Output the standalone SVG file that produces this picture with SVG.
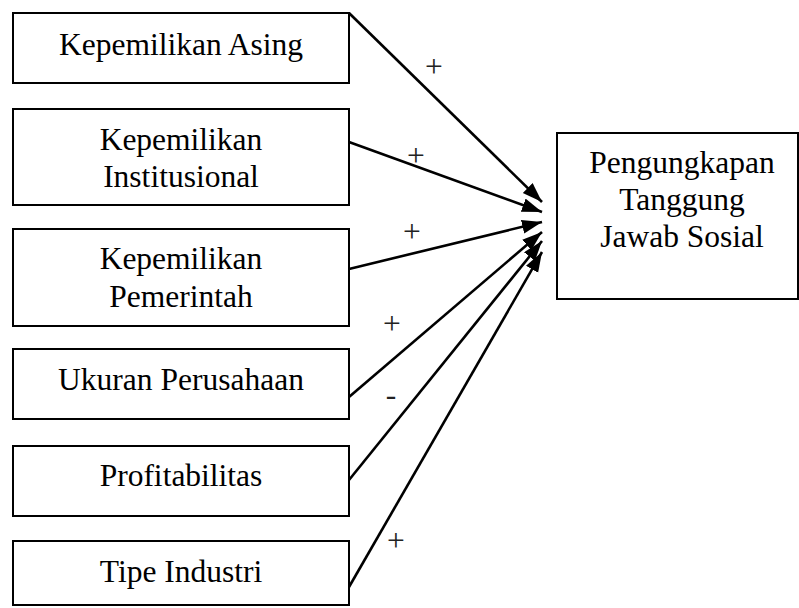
<svg xmlns="http://www.w3.org/2000/svg" width="799" height="608" viewBox="0 0 799 608">
<style>
.box{fill:#fff;stroke:#000;stroke-width:2}
.t{font-family:"Liberation Serif","Times New Roman",serif;font-size:31.5px;fill:#000;text-anchor:middle}
.c{stroke:#000;stroke-width:2.6;fill:none;marker-end:url(#ah)}
.lbl{font-family:"Liberation Serif","Times New Roman",serif;font-size:31.5px;fill:#222;text-anchor:middle}
</style>
<defs>
<marker id="ah" markerUnits="userSpaceOnUse" markerWidth="22" markerHeight="16" refX="20" refY="7" orient="auto" viewBox="0 0 22 16">
<path d="M0,0 L20,7 L0,14 z" fill="#000"/>
</marker>
</defs>
<rect width="799" height="608" fill="#fff"/>
<g id="n1"><rect class="box" x="13" y="13" width="336" height="70"/><text class="t" x="181" y="55">Kepemilikan Asing</text></g>
<g id="n2"><rect class="box" x="13" y="109" width="336" height="96"/><text class="t" x="181" y="150">Kepemilikan</text><text class="t" x="181" y="187">Institusional</text></g>
<g id="n3"><rect class="box" x="13" y="229" width="336" height="97"/><text class="t" x="181" y="269">Kepemilikan</text><text class="t" x="181" y="307">Pemerintah</text></g>
<g id="n4"><rect class="box" x="13" y="349" width="336" height="70"/><text class="t" x="181" y="390">Ukuran Perusahaan</text></g>
<g id="n5"><rect class="box" x="13" y="446" width="336" height="70"/><text class="t" x="181" y="486">Profitabilitas</text></g>
<g id="n6"><rect class="box" x="13" y="541" width="336" height="64"/><text class="t" x="181" y="582">Tipe Industri</text></g>
<g id="n7"><rect class="box" x="557" y="133" width="241" height="166"/><text class="t" x="682" y="173">Pengungkapan</text><text class="t" x="682" y="210">Tanggung</text><text class="t" x="682" y="247">Jawab Sosial</text></g>
<g id="connectors">
<line class="c" x1="349" y1="13" x2="542" y2="202"/>
<line class="c" x1="349" y1="142" x2="542" y2="212"/>
<line class="c" x1="349" y1="269" x2="542" y2="222"/>
<line class="c" x1="349" y1="397" x2="542" y2="232"/>
<line class="c" x1="349" y1="480" x2="542" y2="241"/>
<line class="c" x1="349" y1="587" x2="542" y2="252"/>
<text class="lbl" x="434" y="77">+</text>
<text class="lbl" x="416" y="166">+</text>
<text class="lbl" x="412" y="242">+</text>
<text class="lbl" x="392" y="334">+</text>
<text class="lbl" x="391" y="405">-</text>
<text class="lbl" x="396" y="551">+</text>
</g>
</svg>
